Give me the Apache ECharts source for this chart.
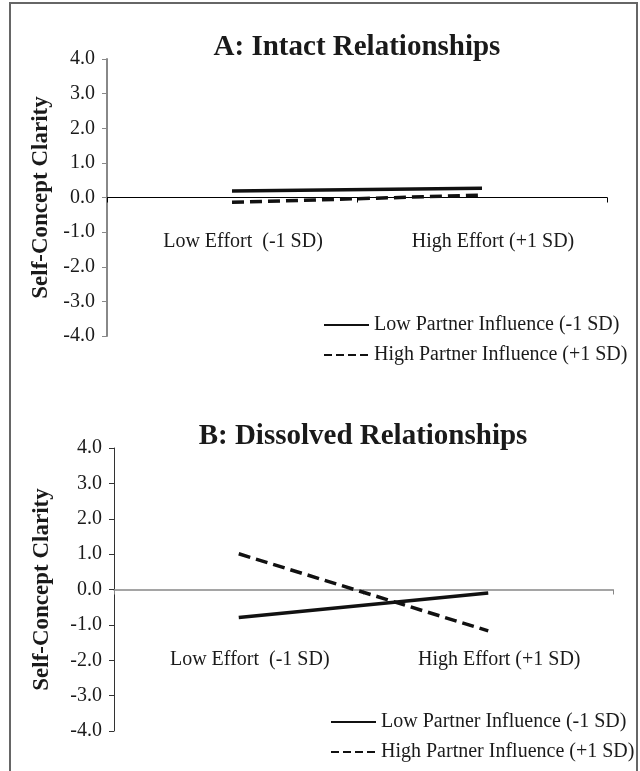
<!DOCTYPE html>
<html>
<head>
<meta charset="utf-8">
<script src="https://cdn.jsdelivr.net/npm/echarts@6/dist/echarts.min.js"></script>
<style>
  html, body { margin: 0; padding: 0; background: #fff; }
  #chart { width: 640px; height: 771px; }
</style>
</head>
<body>
<div id="chart"></div>
<script>
// x categories and tick range
const categories = ['Low Effort  (-1 SD)', 'High Effort (+1 SD)'];
const yMin = -4;
const yMax = 4;
const yStep = 1;

// A: intact relationships
const intactLow = [0.19, 0.27];
const intactHigh = [-0.14, 0.07];

// B: dissolved relationships
const dissolvedLow = [-0.79, -0.10];
const dissolvedHigh = [1.01, -1.17];

const lowName = 'Low Partner Influence (-1 SD)';
const highName = 'High Partner Influence (+1 SD)';

const serif = "'Liberation Serif', 'Times New Roman', serif";
const ink = '#1a1a1a';

function xAxisFor(gridIndex, lineColor, lineWidth, labelMargin) {
  return {
    type: 'category',
    gridIndex: gridIndex,
    data: categories,
    boundaryGap: true,
    axisLine: { onZero: true, lineStyle: { color: lineColor, width: lineWidth } },
    axisTick: { show: true, length: 5, lineStyle: { color: lineColor } },
    axisLabel: {
      interval: 0,
      margin: labelMargin, // labels sit inside the plot, below the zero line
      color: ink,
      fontSize: 20,
      fontFamily: serif,
      padding: [0, 0, 0, 22]
    },
    splitLine: { show: false }
  };
}

function yAxisFor(gridIndex, lineColor, lineWidth, nameGap) {
  return {
    type: 'value',
    gridIndex: gridIndex,
    min: yMin,
    max: yMax,
    interval: yStep,
    name: 'Self-Concept Clarity',
    nameLocation: 'middle',
    nameGap: nameGap,
    nameTextStyle: { fontSize: 23, fontWeight: 'bold', fontFamily: serif, color: ink },
    axisLine: { show: true, lineStyle: { color: lineColor, width: lineWidth } },
    axisTick: { show: true, length: 5, lineStyle: { color: lineColor } },
    axisLabel: {
      margin: 12,
      color: ink,
      fontSize: 20,
      fontFamily: serif,
      formatter: v => v.toFixed(1)
    },
    splitLine: { show: false }
  };
}

function lineSeries(name, data, axisIndex, dashed) {
  return {
    name: name,
    type: 'line',
    xAxisIndex: axisIndex,
    yAxisIndex: axisIndex,
    data: data,
    symbol: 'none',
    silent: true,
    lineStyle: { color: '#111', width: 3.5, type: dashed ? [12, 6] : 'solid' },
    itemStyle: { color: '#111' }
  };
}

function legendAt(left, top) {
  return {
    data: [
      { name: lowName },
      { name: highName, lineStyle: { type: [8, 4] } }
    ],
    orient: 'vertical',
    left: left,
    top: top,
    padding: 0,
    itemWidth: 45,
    itemHeight: 14,
    itemGap: 10,
    selectedMode: false,
    itemStyle: { opacity: 0 },
    textStyle: { fontSize: 20, fontFamily: serif, color: ink, lineHeight: 20 }
  };
}

const chart = echarts.init(document.getElementById('chart'), null, { renderer: 'canvas' });

chart.setOption({
  backgroundColor: '#fff',
  animation: false,
  title: [
    {
      text: 'A: Intact Relationships',
      left: 352,
      textAlign: 'center',
      top: 28,
      textStyle: { fontSize: 29, fontWeight: 'bold', fontFamily: serif, color: ink }
    },
    {
      text: 'B: Dissolved Relationships',
      left: 358,
      textAlign: 'center',
      top: 417,
      textStyle: { fontSize: 29, fontWeight: 'bold', fontFamily: serif, color: ink }
    }
  ],
  legend: [legendAt(323, 315), legendAt(330, 712)],
  grid: [
    { left: 107, top: 59, width: 500, height: 277, outerBoundsMode: 'none', containLabel: false },
    { left: 114, top: 448, width: 499, height: 283, outerBoundsMode: 'none', containLabel: false }
  ],
  xAxis: [xAxisFor(0, '#000', 1, -104), xAxisFor(1, '#888', 1.5, -81)],
  yAxis: [yAxisFor(0, '#888', 2, 53), yAxisFor(1, '#333', 1, 60)],
  series: [
    lineSeries(lowName, intactLow, 0, false),
    lineSeries(highName, intactHigh, 0, true),
    lineSeries(lowName, dissolvedLow, 1, false),
    lineSeries(highName, dissolvedHigh, 1, true)
  ],
  graphic: [
    {
      // frame round the figure, open at the bottom
      type: 'rect',
      silent: true,
      shape: { x: 10, y: 3, width: 627, height: 800 },
      style: { fill: 'none', stroke: '#666', lineWidth: 2 }
    }
  ]
});
</script>
</body>
</html>
